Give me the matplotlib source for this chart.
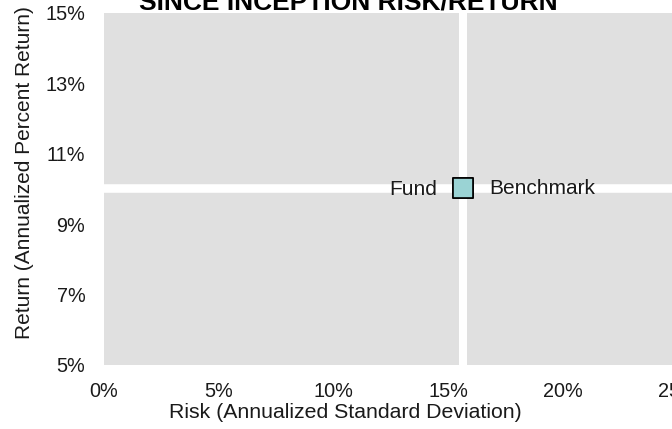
import matplotlib
matplotlib.use("Agg")
import matplotlib.pyplot as plt
from matplotlib.ticker import FuncFormatter

plt.rcParams['font.family'] = ['Liberation Sans', 'DejaVu Sans']

# Data
names = ["Fund", "Benchmark"]
risk = [15.64, 15.64]          # annualized standard deviation (%)
ret = [10.02, 10.02]           # annualized return (%)
bench_risk = 15.64
bench_ret = 10.04
x_ticks = [0, 5, 10, 15, 20, 25]
y_ticks = [5, 7, 9, 11, 13, 15]

W, H = 672, 429
fig = plt.figure(figsize=(W / 100, H / 100), dpi=100)
ax = fig.add_axes([104 / W, 64 / H, 573.75 / W, 352 / H])
ax.set_facecolor("#E0E0E0")
for s in ax.spines.values():
    s.set_visible(False)

ax.set_xlim(0, 25)
ax.set_ylim(5, 15)
ax.set_xticks(x_ticks)
ax.set_yticks(y_ticks)
fmt = FuncFormatter(lambda v, p: f"{v:.0f}%")
ax.xaxis.set_major_formatter(fmt)
ax.yaxis.set_major_formatter(fmt)
ax.tick_params(axis='x', length=0, pad=12.5, labelsize=14.3, labelcolor="#1a1a1a")
ax.tick_params(axis='y', length=0, pad=13.5, labelsize=14.3, labelcolor="#1a1a1a")

ax.axvline(bench_risk, color="white", lw=5.8, zorder=1)
ax.axhline(bench_ret, color="white", lw=6.2, zorder=1)

ax.scatter(risk, ret, marker="s", s=14.4 ** 2, facecolor="#9AD3D4",
           edgecolor="black", linewidths=1.2, zorder=3, clip_on=False)

ax.annotate(names[0], (risk[0], ret[0]), xytext=(-18.7, -1), textcoords="offset points",
            ha="right", va="center", fontsize=15, color="#1a1a1a")
ax.annotate(names[1], (risk[1], ret[1]), xytext=(18.7, 0), textcoords="offset points",
            ha="left", va="center", fontsize=15, color="#1a1a1a")

fig.text(345 / W, 1 - 412 / H, "Risk (Annualized Standard Deviation)", ha="center",
         va="center", fontsize=15.3, color="#1a1a1a")
fig.text(25 / W, 1 - 173 / H, "Return (Annualized Percent Return)", ha="center",
         va="center", rotation=90, fontsize=15, color="#1a1a1a")
fig.text(348 / W, 1 - 10 / H, "SINCE INCEPTION RISK/RETURN", ha="center",
         va="baseline", fontsize=19, fontweight="bold", color="black")

fig.savefig("out.png", dpi=100)
